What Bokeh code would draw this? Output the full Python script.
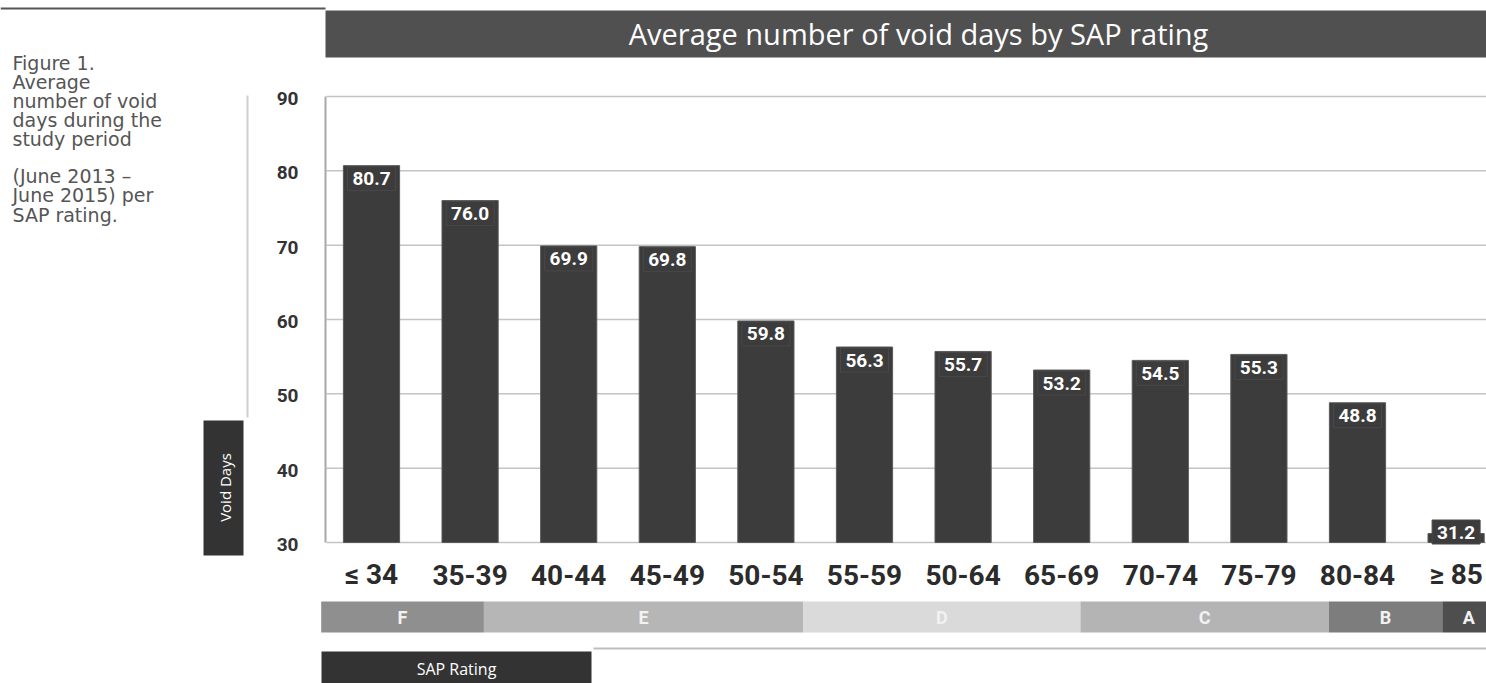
from bokeh.plotting import figure
from bokeh.models import Range1d, ColumnDataSource
from bokeh.core.properties import value
from bokeh.embed import file_html
from bokeh.resources import INLINE
import math

# ---------------- data ----------------
categories = ["≤ 34", "35-39", "40-44", "45-49", "50-54", "55-59",
              "50-64", "65-69", "70-74", "75-79", "80-84", "≥ 85"]
void_days = [80.7, 76.0, 69.9, 69.8, 59.8, 56.3, 55.7, 53.2, 54.5, 55.3, 48.8, 31.2]
y_ticks = [30, 40, 50, 60, 70, 80, 90]
band_letters = ["F", "E", "D", "C", "B", "A"]
band_start = [-0.51, 1.14, 4.38, 7.19, 9.71, 10.86]
band_end = [1.14, 4.38, 7.19, 9.71, 10.86, 11.40]
caption_lines = ["Figure 1.", "Average", "number of void", "days during the",
                 "study period", "(June 2013 –", "June 2015) per", "SAP rating."]
title_text = "Average number of void days by SAP rating"
y_title = "Void Days"
x_title = "SAP Rating"

# ---------------- styles ----------------
band_colors = ["#8f8f8f", "#b6b6b6", "#dadada", "#b4b4b4", "#7d7d7d", "#4e4e4e"]
BAR = "#3c3c3c"
COND = value("Roboto")
CAPF = value("DejaVu Sans")

# ---------------- geometry (page pixels -> data) ----------------
W, H = 1486, 683
PX_CAT = 98.6          # pixels per category
X0_PAGE = 371          # page x of first category centre
PX_DAY = 446 / 60      # pixels per void day
Y30_PAGE = 542         # page y of the 30 line
x_lo = -X0_PAGE / PX_CAT
x_hi = x_lo + W / PX_CAT
y_hi = 30 + Y30_PAGE / PX_DAY
y_lo = 30 - (H - Y30_PAGE) / PX_DAY


def X(px):
    return x_lo + px / PX_CAT


def Y(py):
    return 30 + (Y30_PAGE - py) / PX_DAY


p = figure(width=W, height=H, x_range=Range1d(x_lo, x_hi), y_range=Range1d(y_lo, y_hi),
           x_axis_type=None, y_axis_type=None, toolbar_location=None,
           output_backend="svg", min_border=0, outline_line_color=None)
p.background_fill_color = "white"
p.border_fill_color = "white"

idx = list(range(len(categories)))

# top rule
p.segment(x0=[X(0)], x1=[X(325)], y0=[Y(8)], y1=[Y(8)], line_color="#555555", line_width=2)

# caption
cap_y = [62, 81, 100, 119, 138, 175, 194, 214]
p.text(x=[X(12)] * len(caption_lines), y=[Y(v) for v in cap_y], text=caption_lines,
       text_font=CAPF, text_font_size="19px", text_color="#555555",
       text_align="left", text_baseline="alphabetic")

# light vertical rule left of ticks
p.segment(x0=[X(247)], x1=[X(247)], y0=[Y(95)], y1=[Y(417)], line_color="#cfcfcf", line_width=2)

# Void Days box
p.quad(left=[X(203)], right=[X(243)], top=[Y(420)], bottom=[Y(555)], fill_color="#333333", line_color=None)
p.text(x=[X(224)], y=[Y(487)], text=[y_title], angle=math.pi / 2, text_font=value("Open Sans"),
       text_font_size="15px", text_color="white", text_align="center", text_baseline="middle")

# title bar
p.quad(left=[X(325)], right=[x_hi], top=[Y(10)], bottom=[Y(57)], fill_color="#505050", line_color=None)
p.text(x=[X(918)], y=[Y(33)], text=[title_text], text_font=value("Open Sans"),
       text_font_size="29px", text_color="white", text_align="center", text_baseline="middle")

# grid lines and y tick labels
p.segment(x0=[X(326)] * len(y_ticks), x1=[x_hi] * len(y_ticks), y0=y_ticks, y1=y_ticks,
          line_color="#c4c4c4", line_width=1.5)
p.segment(x0=[X(325)], x1=[X(325)], y0=[min(y_ticks)], y1=[max(y_ticks)], line_color="#a8a8a8", line_width=2)
p.text(x=[X(298)] * len(y_ticks), y=y_ticks, text=[str(t) for t in y_ticks], y_offset=2,
       text_font=COND, text_font_style="bold", text_font_size="19px", text_color="#333333",
       text_align="right", text_baseline="middle")

# bars
src = ColumnDataSource(dict(
    x=idx, top=void_days, cat=categories,
    lab=[f"{v:.1f}" for v in void_days],
    laby=[max(v - 13 / PX_DAY, 30 + 10.5 / PX_DAY) for v in void_days],
))
p.vbar(x="x", top="top", bottom=30, width=0.57, source=src, fill_color=BAR,
       line_color="#5a5a5a", line_width=1)
p.rect(x="x", y="laby", width=48, height=24, width_units="screen", height_units="screen",
       source=src, fill_color=BAR, line_color="#484848")
p.text(x="x", y="laby", text="lab", source=src, text_font=COND, text_font_style="bold",
       text_font_size="19px", text_color="white", text_align="center", text_baseline="middle")

# category labels
p.text(x="x", y=Y(574), text="cat", source=src, text_font=COND, text_font_style="bold",
       text_font_size="28px", text_color="#2b2b2b", text_align="center", text_baseline="middle")

# SAP band
bsrc = ColumnDataSource(dict(left=band_start, right=band_end, color=band_colors, letter=band_letters,
                             mid=[(a + b) / 2 for a, b in zip(band_start, band_end)]))
p.quad(left="left", right="right", top=Y(601), bottom=Y(632), fill_color="color",
       line_color=None, source=bsrc)
p.text(x="mid", y=Y(617), text="letter", source=bsrc, text_font=COND, text_font_style="bold",
       text_font_size="18px", text_color="#f2f2f2", text_align="center", text_baseline="middle")

# bottom rule and SAP Rating box
p.segment(x0=[X(593)], x1=[x_hi], y0=[Y(648)], y1=[Y(648)], line_color="#bdbdbd", line_width=2)
p.quad(left=[X(321)], right=[X(591)], top=[Y(651)], bottom=[y_lo], fill_color="#333333", line_color=None)
p.text(x=[X(456)], y=[Y(668)], text=[x_title], text_font=value("Open Sans"),
       text_font_size="16px", text_color="white", text_align="center", text_baseline="middle")

open("out.html", "w").write(file_html(p, INLINE))
